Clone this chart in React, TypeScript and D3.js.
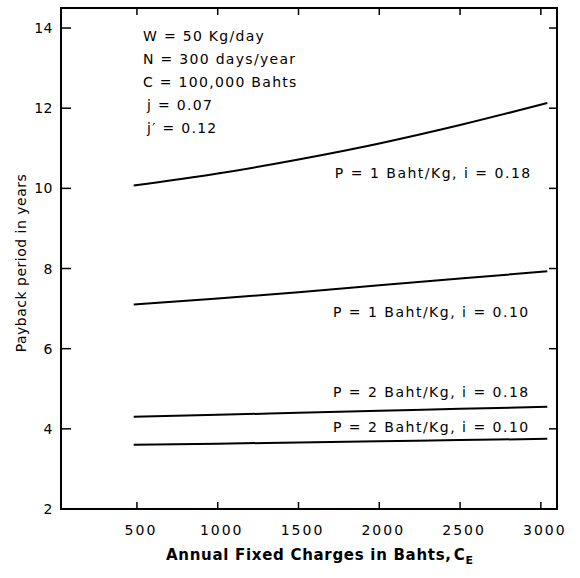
import React from "react";
import * as d3 from "d3";

const xTicks = [500, 1000, 1500, 2000, 2500, 3000];
const yTicks = [2, 4, 6, 8, 10, 12, 14];
const cE = [480, 1000, 1500, 2000, 2500, 3040];
const p1i18 = [10.07, 10.37, 10.72, 11.12, 11.58, 12.13];
const p1i10 = [7.1, 7.25, 7.41, 7.58, 7.75, 7.93];
const p2i18 = [4.3, 4.35, 4.4, 4.45, 4.5, 4.55];
const p2i10 = [3.6, 3.63, 3.66, 3.69, 3.72, 3.75];
const seriesLabels = [
  "P = 1 Baht/Kg, i = 0.18",
  "P = 1 Baht/Kg, i = 0.10",
  "P = 2 Baht/Kg, i = 0.18",
  "P = 2 Baht/Kg, i = 0.10",
];
const paramLines = ["W = 50 Kg/day", "N = 300 days/year", "C = 100,000 Bahts", "j = 0.07", "j\u2032 = 0.12"];

const W = 580;
const H = 578;
const L = 61, R = 557, T = 8, B = 509;
const FONT = "'DejaVu Sans', sans-serif";

export default function App() {
  const x = d3.scaleLinear().domain([30, 3100]).range([L, R]);
  const y = d3.scaleLinear().domain([2, 14.5]).range([B, T]);
  const line = d3
    .line<[number, number]>()
    .x((d) => x(d[0]))
    .y((d) => y(d[1]))
    .curve(d3.curveMonotoneX);
  const series = [p1i18, p1i10, p2i18, p2i10];
  const labelPos = [
    [1725, 10.38],
    [1713, 6.92],
    [1713, 4.92],
    [1713, 4.05],
  ];
  const paramX = [143, 143, 143, 147, 147];

  return (
    <svg
      width={W}
      height={H}
      style={{ position: "absolute", left: 0, top: 0, background: "#fff" }}
      fontFamily={FONT}
    >
      <rect x={0} y={0} width={W} height={H} fill="#fff" />
      {/* frame */}
      <rect x={L} y={T} width={R - L} height={B - T} fill="none" stroke="#000" strokeWidth={2} />
      {/* x ticks */}
      {xTicks.map((t) => (
        <g key={"x" + t}>
          <line x1={x(t)} x2={x(t)} y1={B} y2={B - 7} stroke="#000" strokeWidth={1.5} />
          <line x1={x(t)} x2={x(t)} y1={T} y2={T + 7} stroke="#000" strokeWidth={1.5} />
          <text x={x(t) + 4} y={535} textAnchor="middle" fontSize={14} letterSpacing={2}>
            {t}
          </text>
        </g>
      ))}
      {/* y ticks */}
      {yTicks.map((t) => (
        <g key={"y" + t}>
          {t > 2 && (
            <>
              <line x1={L} x2={L + 10} y1={y(t)} y2={y(t)} stroke="#000" strokeWidth={1.5} />
              <line x1={R} x2={R - 8} y1={y(t)} y2={y(t)} stroke="#000" strokeWidth={1.5} />
            </>
          )}
          <text x={53} y={y(t) + 5} textAnchor="end" fontSize={14} letterSpacing={0.5}>
            {t}
          </text>
        </g>
      ))}
      {/* curves */}
      {series.map((s, i) => (
        <path
          key={"s" + i}
          d={line(cE.map((c, k) => [c, s[k]] as [number, number])) || ""}
          fill="none"
          stroke="#000"
          strokeWidth={2}
        />
      ))}
      {/* series labels */}
      {seriesLabels.map((lab, i) => (
        <text
          key={"l" + i}
          x={x(labelPos[i][0])}
          y={y(labelPos[i][1]) + 5}
          fontSize={14}
          letterSpacing={1.5}
        >
          {lab}
        </text>
      ))}
      {/* parameters */}
      {paramLines.map((p, i) => (
        <text key={"p" + i} x={paramX[i]} y={41 + i * 23} fontSize={14} letterSpacing={1.3}>
          {p}
        </text>
      ))}
      {/* axis titles */}
      <text x={166} y={560} fontSize={15} fontWeight={600} letterSpacing={0.7}>
        Annual Fixed Charges in Bahts,
        <tspan dx={2}>C</tspan>
        <tspan dy={4} fontSize={11}>E</tspan>
      </text>
      <text
        transform={`translate(26, 263) rotate(-90)`}
        textAnchor="middle"
        fontSize={14}
        letterSpacing={0.5}
      >
        Payback period in years
      </text>
    </svg>
  );
}
